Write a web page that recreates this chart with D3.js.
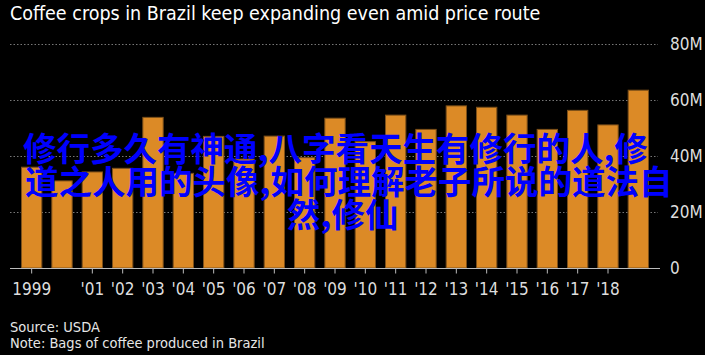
<!DOCTYPE html>
<html>
<head>
<meta charset="utf-8">
<script src="https://cdn.jsdelivr.net/npm/d3@7"></script>
<style>
  html, body { margin: 0; padding: 0; background: #000; }
  svg { display: block; }
  text { font-family: "Liberation Sans Narrow", "Arial Narrow", "DejaVu Sans Condensed", sans-serif; }
</style>
</head>
<body>
<svg id="chart" width="705" height="355"></svg>
<script>
const years = ["1999","2000","2001","2002","2003","2004","2005","2006","2007","2008","2009","2010","2011","2012","2013","2014","2015","2016","2017","2018","2019"];
const bags = [36.0, 31.1, 34.3, 35.6, 53.8, 33.8, 47.0, 38.9, 47.1, 39.4, 53.5, 45.1, 54.6, 49.5, 57.9, 57.4, 54.6, 49.5, 56.3, 51.1, 63.5];
const tickYears = ["1999","2001","2002","2003","2004","2005","2006","2007","2008","2009","2010","2011","2012","2013","2014","2015","2016","2017","2018"];
const tickLabels = ["1999","'01","'02","'03","'04","'05","'06","'07","'08","'09","'10","'11","'12","'13","'14","'15","'16","'17","'18"];
const yTicks = [0, 20, 40, 60, 80];
const yTickLabels = ["0", "20M", "40M", "60M", "80M"];
const title = "Coffee crops in Brazil keep expanding even amid price route";
const notes = ["Source: USDA", "Note: Bags of coffee produced in Brazil"];
const overlayLines = ["修行多久有神通,八字看天生有修行的人,修", "道之人用的头像,如何理解老子所说的道法自", "然,修仙"];

const svg = d3.select("#chart");
svg.append("rect").attr("width", 705).attr("height", 355).attr("fill", "#000");

const x = d3.scaleBand().domain(years).range([16.5, 653.5]).paddingInner(0.33).paddingOuter(0.165);
const y = d3.scaleLinear().domain([0, 80]).range([268, 44]);

// gridlines
svg.append("g").selectAll("line").data(yTicks.filter(d => d > 0)).join("line")
  .attr("x1", 10).attr("x2", 658)
  .attr("y1", d => Math.round(y(d)) + 0.5).attr("y2", d => Math.round(y(d)) + 0.5)
  .attr("stroke", "#777").attr("stroke-width", 1).attr("stroke-dasharray", "1.5,2");

// bars
svg.append("g").selectAll("rect").data(years).join("rect")
  .attr("x", d => x(d))
  .attr("width", x.bandwidth())
  .attr("y", (d, i) => y(bags[i]))
  .attr("height", (d, i) => y(0) - y(bags[i]))
  .attr("fill", "#dc8a26")
  .attr("stroke", "#7d5019")
  .attr("stroke-width", 1);

// baseline
svg.append("line").attr("x1", 10).attr("x2", 660)
  .attr("y1", 268.5).attr("y2", 268.5).attr("stroke", "#bbb").attr("stroke-width", 1.2);

// x ticks
const xAxis = d3.axisBottom(x).tickValues(tickYears).tickSize(5).tickPadding(9)
  .tickFormat(d => tickLabels[tickYears.indexOf(d)]);
const gx = svg.append("g").attr("transform", "translate(0,268.5)").call(xAxis);
gx.select(".domain").remove();
gx.selectAll(".tick line").attr("stroke", "#bbb");
gx.selectAll(".tick text").attr("fill", "#ddd").attr("font-size", 17)
  .attr("font-family", "'Liberation Sans Narrow', 'Arial Narrow', sans-serif");

// y labels
const yAxis = d3.axisRight(y).tickValues(yTicks).tickSize(0).tickPadding(0)
  .tickFormat(d => yTickLabels[yTicks.indexOf(d)]);
const gy = svg.append("g").attr("transform", "translate(670,0)").call(yAxis);
gy.select(".domain").remove();
gy.selectAll(".tick text").attr("fill", "#ddd").attr("font-size", 17)
  .attr("font-family", "'Liberation Sans Narrow', 'Arial Narrow', sans-serif");

// title
svg.append("text").attr("x", 10).attr("y", 19.5).attr("fill", "#fff")
  .attr("font-size", 19.5).text(title);

// notes
svg.selectAll(".note").data(notes).join("text").attr("class", "note")
  .attr("x", 10).attr("y", (d, i) => 332 + i * 16)
  .attr("fill", "#e6e6e6").attr("font-size", 14.5).text(d => d);

// overlay text
const ox = [23, 25, 287];
svg.selectAll(".ov").data(overlayLines).join("text").attr("class", "ov")
  .attr("x", (d, i) => ox[i]).attr("y", (d, i) => 160.5 + i * 33)
  .attr("fill", "#0000ff").attr("font-size", 33.5).attr("font-weight", "bold")
  .style("font-family", "'Noto Sans CJK SC', sans-serif")
  .text(d => d);
</script>
</body>
</html>
